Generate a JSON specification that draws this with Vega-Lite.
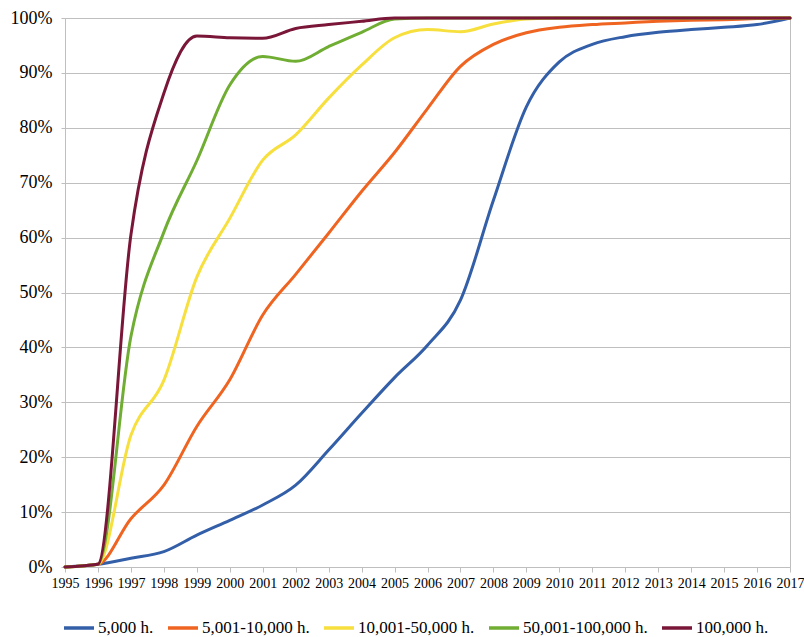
{
  "$schema": "https://vega.github.io/schema/vega-lite/v6.json",
  "width": 725,
  "height": 549,
  "autosize": "none",
  "padding": {"left": 65, "top": 18, "right": 14, "bottom": 70},
  "background": "white",
  "config": {
    "font": "Liberation Serif",
    "view": {"stroke": "#BFBFBF", "strokeWidth": 1}
  },
  "data": {
    "values": [
      {"year": 1995, "series": "5,000 h.", "value": 0},
      {"year": 1996, "series": "5,000 h.", "value": 0.5},
      {"year": 1997, "series": "5,000 h.", "value": 1.6},
      {"year": 1998, "series": "5,000 h.", "value": 2.8},
      {"year": 1999, "series": "5,000 h.", "value": 5.8},
      {"year": 2000, "series": "5,000 h.", "value": 8.5},
      {"year": 2001, "series": "5,000 h.", "value": 11.3},
      {"year": 2002, "series": "5,000 h.", "value": 14.9},
      {"year": 2003, "series": "5,000 h.", "value": 21.3},
      {"year": 2004, "series": "5,000 h.", "value": 28},
      {"year": 2005, "series": "5,000 h.", "value": 34.5},
      {"year": 2006, "series": "5,000 h.", "value": 40.4},
      {"year": 2007, "series": "5,000 h.", "value": 48.6},
      {"year": 2008, "series": "5,000 h.", "value": 66.8},
      {"year": 2009, "series": "5,000 h.", "value": 83.8},
      {"year": 2010, "series": "5,000 h.", "value": 92},
      {"year": 2011, "series": "5,000 h.", "value": 95.2},
      {"year": 2012, "series": "5,000 h.", "value": 96.6},
      {"year": 2013, "series": "5,000 h.", "value": 97.4},
      {"year": 2014, "series": "5,000 h.", "value": 97.9},
      {"year": 2015, "series": "5,000 h.", "value": 98.3},
      {"year": 2016, "series": "5,000 h.", "value": 98.8},
      {"year": 2017, "series": "5,000 h.", "value": 100},

      {"year": 1995, "series": "5,001-10,000 h.", "value": 0},
      {"year": 1996, "series": "5,001-10,000 h.", "value": 0.5},
      {"year": 1997, "series": "5,001-10,000 h.", "value": 8.8},
      {"year": 1998, "series": "5,001-10,000 h.", "value": 14.9},
      {"year": 1999, "series": "5,001-10,000 h.", "value": 25.6},
      {"year": 2000, "series": "5,001-10,000 h.", "value": 34.1},
      {"year": 2001, "series": "5,001-10,000 h.", "value": 45.9},
      {"year": 2002, "series": "5,001-10,000 h.", "value": 53.3},
      {"year": 2003, "series": "5,001-10,000 h.", "value": 60.8},
      {"year": 2004, "series": "5,001-10,000 h.", "value": 68.4},
      {"year": 2005, "series": "5,001-10,000 h.", "value": 75.5},
      {"year": 2006, "series": "5,001-10,000 h.", "value": 83.5},
      {"year": 2007, "series": "5,001-10,000 h.", "value": 91.2},
      {"year": 2008, "series": "5,001-10,000 h.", "value": 95.2},
      {"year": 2009, "series": "5,001-10,000 h.", "value": 97.3},
      {"year": 2010, "series": "5,001-10,000 h.", "value": 98.3},
      {"year": 2011, "series": "5,001-10,000 h.", "value": 98.8},
      {"year": 2012, "series": "5,001-10,000 h.", "value": 99.1},
      {"year": 2013, "series": "5,001-10,000 h.", "value": 99.4},
      {"year": 2014, "series": "5,001-10,000 h.", "value": 99.6},
      {"year": 2015, "series": "5,001-10,000 h.", "value": 99.7},
      {"year": 2016, "series": "5,001-10,000 h.", "value": 99.9},
      {"year": 2017, "series": "5,001-10,000 h.", "value": 100},

      {"year": 1995, "series": "10,001-50,000 h.", "value": 0},
      {"year": 1996, "series": "10,001-50,000 h.", "value": 0.5},
      {"year": 1997, "series": "10,001-50,000 h.", "value": 24},
      {"year": 1998, "series": "10,001-50,000 h.", "value": 34},
      {"year": 1999, "series": "10,001-50,000 h.", "value": 52.8},
      {"year": 2000, "series": "10,001-50,000 h.", "value": 63.5},
      {"year": 2001, "series": "10,001-50,000 h.", "value": 74.1},
      {"year": 2002, "series": "10,001-50,000 h.", "value": 78.7},
      {"year": 2003, "series": "10,001-50,000 h.", "value": 85.4},
      {"year": 2004, "series": "10,001-50,000 h.", "value": 91.4},
      {"year": 2005, "series": "10,001-50,000 h.", "value": 96.4},
      {"year": 2006, "series": "10,001-50,000 h.", "value": 97.9},
      {"year": 2007, "series": "10,001-50,000 h.", "value": 97.5},
      {"year": 2008, "series": "10,001-50,000 h.", "value": 98.9},
      {"year": 2009, "series": "10,001-50,000 h.", "value": 99.8},
      {"year": 2010, "series": "10,001-50,000 h.", "value": 100},
      {"year": 2011, "series": "10,001-50,000 h.", "value": 100},
      {"year": 2012, "series": "10,001-50,000 h.", "value": 100},
      {"year": 2013, "series": "10,001-50,000 h.", "value": 100},
      {"year": 2014, "series": "10,001-50,000 h.", "value": 100},
      {"year": 2015, "series": "10,001-50,000 h.", "value": 100},
      {"year": 2016, "series": "10,001-50,000 h.", "value": 100},
      {"year": 2017, "series": "10,001-50,000 h.", "value": 100},

      {"year": 1995, "series": "50,001-100,000 h.", "value": 0},
      {"year": 1996, "series": "50,001-100,000 h.", "value": 0.5},
      {"year": 1997, "series": "50,001-100,000 h.", "value": 42},
      {"year": 1998, "series": "50,001-100,000 h.", "value": 61},
      {"year": 1999, "series": "50,001-100,000 h.", "value": 74},
      {"year": 2000, "series": "50,001-100,000 h.", "value": 87.8},
      {"year": 2001, "series": "50,001-100,000 h.", "value": 93},
      {"year": 2002, "series": "50,001-100,000 h.", "value": 92.1},
      {"year": 2003, "series": "50,001-100,000 h.", "value": 94.8},
      {"year": 2004, "series": "50,001-100,000 h.", "value": 97.4},
      {"year": 2005, "series": "50,001-100,000 h.", "value": 99.8},
      {"year": 2006, "series": "50,001-100,000 h.", "value": 100},
      {"year": 2007, "series": "50,001-100,000 h.", "value": 100},
      {"year": 2008, "series": "50,001-100,000 h.", "value": 100},
      {"year": 2009, "series": "50,001-100,000 h.", "value": 100},
      {"year": 2010, "series": "50,001-100,000 h.", "value": 100},
      {"year": 2011, "series": "50,001-100,000 h.", "value": 100},
      {"year": 2012, "series": "50,001-100,000 h.", "value": 100},
      {"year": 2013, "series": "50,001-100,000 h.", "value": 100},
      {"year": 2014, "series": "50,001-100,000 h.", "value": 100},
      {"year": 2015, "series": "50,001-100,000 h.", "value": 100},
      {"year": 2016, "series": "50,001-100,000 h.", "value": 100},
      {"year": 2017, "series": "50,001-100,000 h.", "value": 100},

      {"year": 1995, "series": "100,000 h.", "value": 0},
      {"year": 1996, "series": "100,000 h.", "value": 0.5},
      {"year": 1997, "series": "100,000 h.", "value": 60.5},
      {"year": 1998, "series": "100,000 h.", "value": 86.3},
      {"year": 1999, "series": "100,000 h.", "value": 96.7},
      {"year": 2000, "series": "100,000 h.", "value": 96.4},
      {"year": 2001, "series": "100,000 h.", "value": 96.3},
      {"year": 2002, "series": "100,000 h.", "value": 98.1},
      {"year": 2003, "series": "100,000 h.", "value": 98.8},
      {"year": 2004, "series": "100,000 h.", "value": 99.4},
      {"year": 2005, "series": "100,000 h.", "value": 100},
      {"year": 2006, "series": "100,000 h.", "value": 100},
      {"year": 2007, "series": "100,000 h.", "value": 100},
      {"year": 2008, "series": "100,000 h.", "value": 100},
      {"year": 2009, "series": "100,000 h.", "value": 100},
      {"year": 2010, "series": "100,000 h.", "value": 100},
      {"year": 2011, "series": "100,000 h.", "value": 100},
      {"year": 2012, "series": "100,000 h.", "value": 100},
      {"year": 2013, "series": "100,000 h.", "value": 100},
      {"year": 2014, "series": "100,000 h.", "value": 100},
      {"year": 2015, "series": "100,000 h.", "value": 100},
      {"year": 2016, "series": "100,000 h.", "value": 100},
      {"year": 2017, "series": "100,000 h.", "value": 100}
    ]
  },
  "mark": {"type": "line", "interpolate": "monotone", "strokeWidth": 3, "strokeCap": "round", "strokeJoin": "round"},
  "encoding": {
    "x": {
      "field": "year",
      "type": "quantitative",
      "scale": {"domain": [1995, 2017], "nice": false, "zero": false},
      "axis": {
        "title": null,
        "values": [1995, 1996, 1997, 1998, 1999, 2000, 2001, 2002, 2003, 2004, 2005, 2006, 2007, 2008, 2009, 2010, 2011, 2012, 2013, 2014, 2015, 2016, 2017],
        "format": "d",
        "grid": false,
        "domainColor": "#BFBFBF",
        "tickColor": "#BFBFBF",
        "tickSize": 5,
        "labelFont": "Liberation Serif",
        "labelFontSize": 14,
        "labelColor": "#000000",
        "labelPadding": 4,
        "labelOverlap": false,
        "labelFlush": false
      }
    },
    "y": {
      "field": "value",
      "type": "quantitative",
      "scale": {"domain": [0, 100], "nice": false},
      "axis": {
        "title": null,
        "values": [0, 10, 20, 30, 40, 50, 60, 70, 80, 90, 100],
        "labelExpr": "datum.value + '%'",
        "grid": true,
        "gridColor": "#BFBFBF",
        "gridWidth": 1,
        "domainColor": "#BFBFBF",
        "tickColor": "#BFBFBF",
        "tickSize": 4,
        "labelFont": "Liberation Serif",
        "labelFontSize": 18,
        "labelColor": "#000000",
        "labelPadding": 9
      }
    },
    "color": {
      "field": "series",
      "type": "nominal",
      "sort": ["5,000 h.", "5,001-10,000 h.", "10,001-50,000 h.", "50,001-100,000 h.", "100,000 h."],
      "scale": {
        "domain": ["5,000 h.", "5,001-10,000 h.", "10,001-50,000 h.", "50,001-100,000 h.", "100,000 h."],
        "range": ["#335EA8", "#EF6420", "#F7DF3D", "#70AD33", "#7A1638"]
      },
      "legend": {
        "title": null,
        "orient": "none",
        "legendX": -3,
        "legendY": 593,
        "direction": "horizontal",
        "symbolType": "stroke",
        "symbolSize": 900,
        "symbolStrokeWidth": 3.5,
        "labelFont": "Liberation Serif",
        "labelFontSize": 17,
        "labelColor": "#000000",
        "labelOffset": 2,
        "columnPadding": 7
      }
    }
  }
}
